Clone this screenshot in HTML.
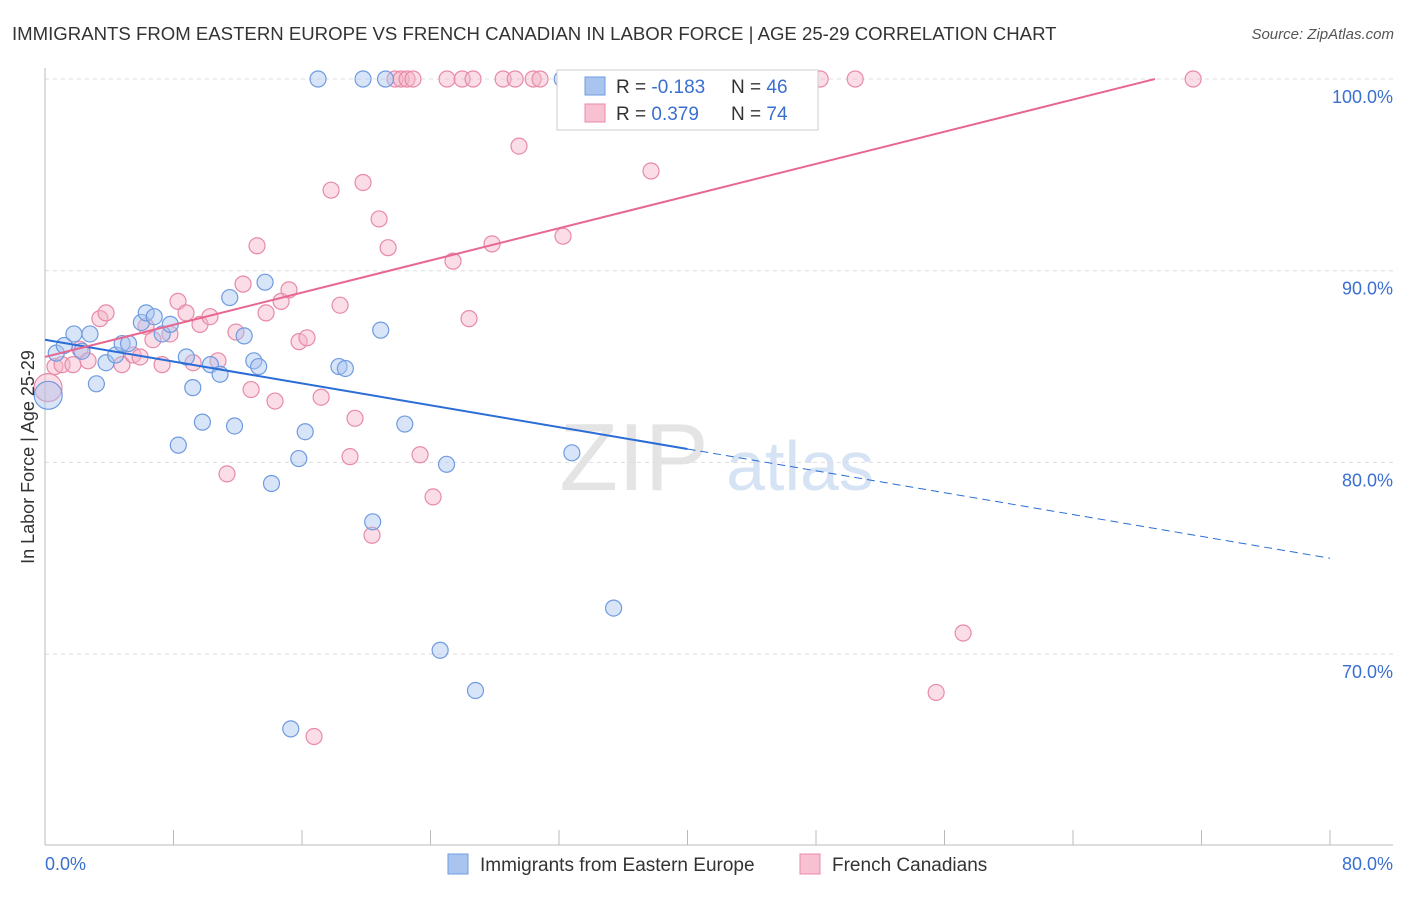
<!DOCTYPE html>
<html><head><meta charset="utf-8"><style>
body{margin:0;background:#fff;font-family:"Liberation Sans",sans-serif;}
svg text{font-family:"Liberation Sans",sans-serif;}
</style></head><body>
<svg id="c" width="1406" height="892">
<text x="12" y="40" font-size="18.6" fill="#333">IMMIGRANTS FROM EASTERN EUROPE VS FRENCH CANADIAN IN LABOR FORCE | AGE 25-29 CORRELATION CHART</text>
<text x="1394" y="39" font-size="15" fill="#555" text-anchor="end" font-style="italic">Source: ZipAtlas.com</text>
<text x="634" y="490" font-size="96" fill="#e4e4e4" font-family="Liberation Serif" text-anchor="middle">ZIP</text>
<text x="800" y="490" font-size="70" fill="#d5e3f5" text-anchor="middle">atlas</text>
<g id="grid"></g><g id="axes"></g><g id="pts"></g><g id="lines"></g>
<text transform="translate(34,457) rotate(-90)" font-size="18" fill="#333" text-anchor="middle">In Labor Force | Age 25-29</text>
<text x="45" y="870" font-size="18" fill="#3a6fd0">0.0%</text>
<text x="1393" y="870" font-size="18" fill="#3a6fd0" text-anchor="end">80.0%</text>
<g>
<rect x="557" y="70" width="261" height="60" fill="#fff" stroke="#ccc"/>
<rect x="585" y="77" width="20" height="18" fill="#a9c4ef" stroke="#6f9be0"/>
<rect x="585" y="104" width="20" height="18" fill="#f7c1d2" stroke="#e88aa8"/>
<text x="616" y="93" font-size="19" fill="#333">R = <tspan fill="#3a6fd0">-0.183</tspan></text>
<text x="731" y="93" font-size="19" fill="#333">N = <tspan fill="#3a6fd0">46</tspan></text>
<text x="616" y="120" font-size="19" fill="#333">R = <tspan fill="#3a6fd0"> 0.379</tspan></text>
<text x="731" y="120" font-size="19" fill="#333">N = <tspan fill="#3a6fd0">74</tspan></text>
</g>
<g>
<rect x="448" y="854" width="20" height="20" fill="#a9c4ef" stroke="#6f9be0"/>
<text x="480" y="871" font-size="19" fill="#333">Immigrants from Eastern Europe</text>
<rect x="800" y="854" width="20" height="20" fill="#f7c1d2" stroke="#e88aa8"/>
<text x="832" y="871" font-size="19" fill="#333">French Canadians</text>
</g>
</svg>
<script>
const yTicks=[100,90,80,70];
const yTickLabels=["100.0%","90.0%","80.0%","70.0%"];
const xTicks=[0,8,16,24,32,40,48,56,64,72,80];
const blueX=[17,19.8,21.2,32.2,0.2,0.7,1.2,1.8,2.8,2.3,3.2,3.8,4.4,4.8,5.2,6,6.3,6.8,7.3,7.8,8.3,8.8,9.2,9.8,10.3,10.9,11.5,11.8,12.4,13,13.3,13.7,14.1,15.8,16.2,15.3,18.3,18.7,20.4,20.9,22.4,25,24.6,26.8,32.8,35.4];
const blueY=[100,100,100,100,83.5,85.7,86.1,86.7,86.7,85.8,84.1,85.2,85.6,86.2,86.2,87.3,87.8,87.6,86.7,87.2,80.9,85.5,83.9,82.1,85.1,84.6,88.6,81.9,86.6,85.3,85,89.4,78.9,80.2,81.6,66.1,85,84.9,76.9,86.9,82,79.9,70.2,68.1,80.5,72.4];
const pinkX=[0.19,0.62,1.06,1.74,2.18,2.68,3.42,3.8,4.79,5.48,5.92,6.29,6.72,7.29,7.78,8.28,8.78,9.22,9.65,10.27,10.77,11.33,11.89,12.33,12.83,13.2,13.76,14.32,14.7,15.19,15.82,16.31,16.75,17.19,17.81,18.37,18.99,19.3,19.8,20.36,20.8,21.36,21.79,22.17,22.54,22.91,23.35,24.16,25.03,25.97,26.65,25.4,26.4,27.83,28.52,29.27,30.39,30.82,29.51,32.25,34.81,35.68,36.99,37.73,38.6,41.66,44.65,48.26,50.44,55.48,57.16,71.48];
const pinkY=[83.9,85.0,85.1,85.1,85.9,85.3,87.5,87.8,85.1,85.6,85.5,87.1,86.4,85.1,86.7,88.4,87.8,85.2,87.2,87.6,85.3,79.4,86.8,89.3,83.8,91.3,87.8,83.2,88.4,89.0,86.3,86.5,65.7,83.4,94.2,88.2,80.3,82.3,94.6,76.2,92.7,91.2,100,100,100,100,80.4,78.2,100,100,100,90.5,87.5,91.4,100,100,100,100,96.5,91.8,100,100,100,95.2,100,100,100,100,100,68.0,71.1,100];
const trendBlue=[0,86.4,40,80.7,80,75.0];
const trendPink=[0,85.5,69.1,100];
const X=v=>45+v*(1330-45)/80, Y=v=>79+(100-v)*19.17;
const NS="http://www.w3.org/2000/svg";
function mk(t,a,p){const e=document.createElementNS(NS,t);for(const k in a)e.setAttribute(k,a[k]);document.getElementById(p).appendChild(e);return e;}
yTicks.forEach((t,i)=>{
 const g=mk('line',{x1:45,x2:1393,y1:Y(t),y2:Y(t),stroke:'#ddd','stroke-dasharray':'4,4'},'grid');
 
 
 const l=mk('text',{x:1393,y:Y(t)+24,'font-size':18,fill:'#3a6fd0','text-anchor':'end'},'grid');
 l.textContent=yTickLabels[i];
 
 
});
const ya=mk('line',{x1:45,x2:45,y1:68,y2:845,stroke:'#bbb'},'axes');


const xa=mk('line',{x1:45,x2:1393,y1:845,y2:845,stroke:'#bbb'},'axes');


xTicks.forEach(t=>{
 const k=mk('line',{x1:X(t),x2:X(t),y1:830,y2:845,stroke:'#bbb'},'axes');
 
 
});
function dots(xs,ys,fill,stroke,name){xs.forEach((x,i)=>{
 const big=(x<0.5);
 const c=mk('circle',{cx:X(x),cy:Y(ys[i]),r:big?14:8,fill:fill,'fill-opacity':0.45,stroke:stroke,'stroke-width':1.2},'pts');
 
 
});}
dots(pinkX,pinkY,'#f5b3c8','#e88aa8','french-canadian-point');
dots(blueX,blueY,'#a9c4ef','#6f9be0','eastern-europe-point');
const b1=mk('line',{x1:X(trendBlue[0]),y1:Y(trendBlue[1]),x2:X(trendBlue[2]),y2:Y(trendBlue[3]),stroke:'#2a6dd6','stroke-width':2},'lines');


const b2=mk('line',{x1:X(trendBlue[2]),y1:Y(trendBlue[3]),x2:X(trendBlue[4]),y2:Y(trendBlue[5]),stroke:'#2a6dd6','stroke-width':1,'stroke-dasharray':'8,5'},'lines');


const p1=mk('line',{x1:X(trendPink[0]),y1:Y(trendPink[1]),x2:X(trendPink[2]),y2:Y(trendPink[3]),stroke:'#e8668f','stroke-width':2},'lines');


</script>
</body></html>
